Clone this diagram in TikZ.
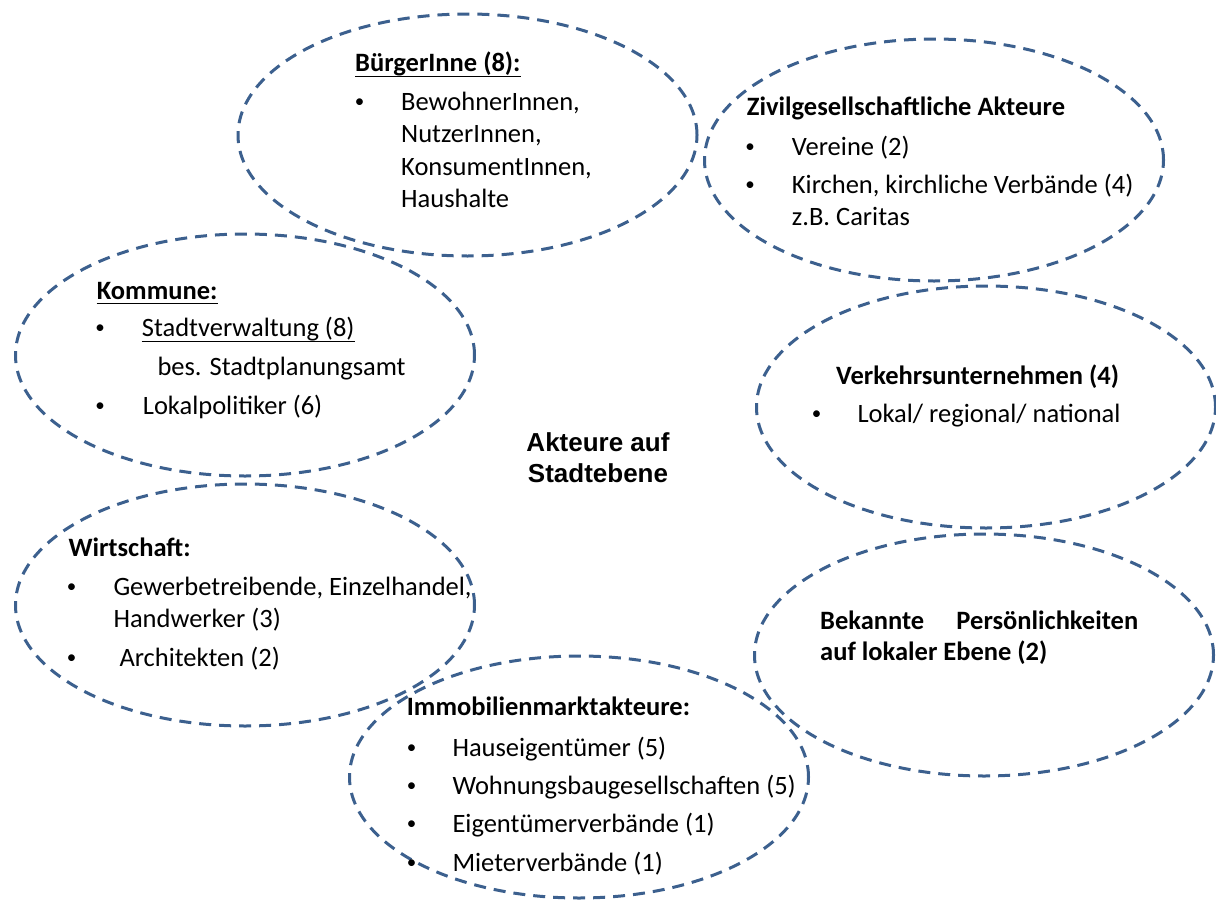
\documentclass[tikz,border=0pt]{standalone}
\usepackage{fontspec}
\setmainfont{Carlito}
\newfontfamily\arialfont{Liberation Sans}
\usetikzlibrary{shapes.geometric}
\definecolor{dashblue}{RGB}{60,96,142}
\tikzset{
  bubble/.style={draw=dashblue, line width=3pt, dash pattern=on 12pt off 8pt,
    shape=ellipse, minimum width=459pt, minimum height=242pt, inner sep=0pt},
  txt/.style={anchor=base west, inner sep=0pt, font=\fontsize{26.5}{30}\selectfont},
  head/.style={anchor=base west, inner sep=0pt, font=\fontsize{26.5}{30}\selectfont\bfseries},
  bul/.style={anchor=base, inner sep=0pt, font=\fontsize{19}{22}\selectfont},
  ul/.style={line width=1.4pt},
  center/.style={anchor=base, inner sep=0pt, font=\arialfont\fontsize{26}{30}\selectfont\bfseries}
}
\begin{document}
\begin{tikzpicture}[x=1pt,y=-1pt]
\useasboundingbox (0,0) rectangle (1216,900);
% ellipses
\node[bubble] (eB) at (467.5,135) {};
\node[bubble] (eZ) at (934,160) {};
\node[bubble] (eK) at (245,355) {};
\node[bubble] (eV) at (986,407) {};
\node[bubble] (eW) at (245,605) {};
\node[bubble] (eP) at (984,655) {};
\node[bubble] (eI) at (579,777) {};
% center
\node[center] (c1) at (598,451.7) {Akteure auf};
\node[center] (c2) at (598,482.7) {Stadtebene};
% Buerger
\node[head] (bh) at (355,71.7) {BürgerInne (8):};
\draw[ul] ([yshift=-4.5pt]bh.base west) -- ([yshift=-4.5pt]bh.base east);
\node[bul] (bb1) at (359.7,107) {•};
\node[txt] (bt1) at (401,110) {BewohnerInnen,};
\node[txt] (bt2) at (401,142.5) {NutzerInnen,};
\node[txt] (bt3) at (401,175) {KonsumentInnen,};
\node[txt] (bt4) at (401,207.3) {Haushalte};
% Zivil
\node[head] (zh) at (746.7,115) {Zivilgesellschaftliche Akteure};
\node[bul] (zb1) at (750,152) {•};
\node[txt] (zt1) at (791.7,155) {Vereine (2)};
\node[bul] (zb2) at (750,190.3) {•};
\node[txt] (zt2) at (791.7,193.3) {Kirchen, kirchliche Verbände (4)};
\node[txt] (zt3) at (791.7,225) {z.B. Caritas};
% Kommune
\node[head] (kh) at (96.7,299) {Kommune:};
\draw[ul] ([yshift=-4.5pt]kh.base west) -- ([yshift=-4.5pt]kh.base east);
\node[bul] (kb1) at (100,333.7) {•};
\node[txt] (kt1) at (141.7,336.7) {Stadtverwaltung (8)};
\draw[ul,line width=1.1pt] ([yshift=-4.5pt]kt1.base west) -- ([yshift=-4.5pt]kt1.base east);
\node[txt] (kt2) at (157.3,375) {bes. Stadtplanungsamt};
\node[bul] (kb2) at (100,411.3) {•};
\node[txt] (kt3) at (142.7,414.3) {Lokalpolitiker (6)};
% Verkehr
\node[head] (vh) at (836,384.3) {Verkehrsunternehmen (4)};
\node[bul] (vb1) at (816.7,419.7) {•};
\node[txt] (vt1) at (857.3,422.7) {Lokal/ regional/ national};
% Wirtschaft
\node[head] (wh) at (68.3,556) {Wirtschaft:};
\node[bul] (wb1) at (71.7,592) {•};
\node[txt] (wt1) at (113.3,595) {Gewerbetreibende, Einzelhandel,};
\node[txt] (wt2) at (113.3,627.3) {Handwerker (3)};
\node[bul] (wb2) at (71.7,663.7) {•};
\node[txt] (wt3) at (119.3,666.7) {Architekten (2)};
% Bekannte
\node[head] (ph1) at (820,629) {\hbox to 318pt{Bekannte\hfil Persönlichkeiten}};
\node[head] (ph2) at (820,660.7) {auf lokaler Ebene (2)};
% Immobilien
\node[head] (ih) at (406.7,715) {Immobilienmarktakteure:};
\node[bul] (ib1) at (411.7,753) {•};
\node[txt] (it1) at (452.3,756) {Hauseigentümer (5)};
\node[bul] (ib2) at (411.7,791.3) {•};
\node[txt] (it2) at (452.3,794.3) {Wohnungsbaugesellschaften (5)};
\node[bul] (ib3) at (411.7,829.7) {•};
\node[txt] (it3) at (452.3,832.7) {Eigentümerverbände (1)};
\node[bul] (ib4) at (411.7,868) {•};
\node[txt] (it4) at (452.3,871) {Mieterverbände (1)};
\end{tikzpicture}
\end{document}
